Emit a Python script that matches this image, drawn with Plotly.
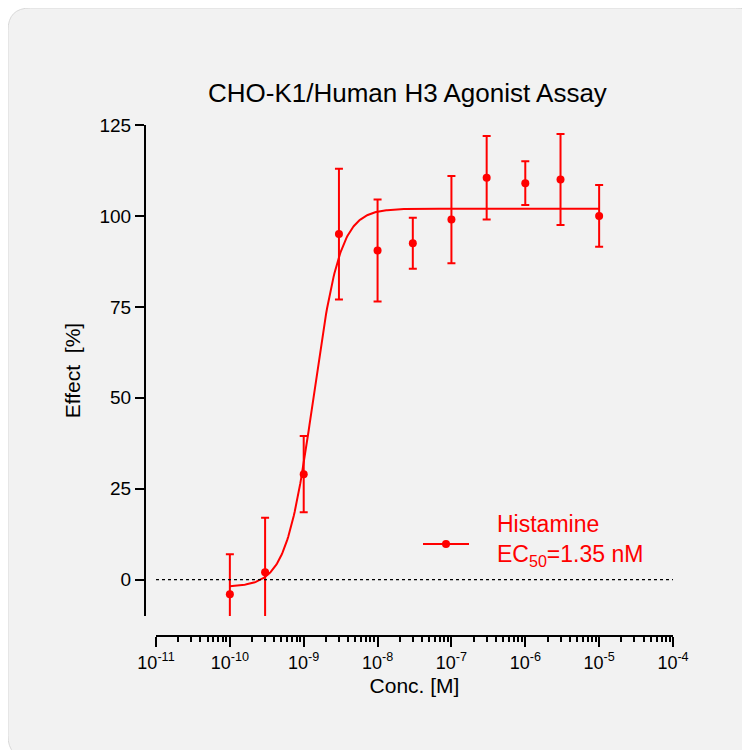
import numpy as np
import plotly.graph_objects as go

conc = [1e-10, 3e-10, 1e-9, 3e-9, 1e-8, 3e-8, 1e-7, 3e-7, 1e-6, 3e-6, 1e-5]
effect = [-4, 2, 29, 95, 90.5, 92.5, 99, 110.5, 109, 110, 100]
err = [11, 15, 10.5, 18, 14, 7, 12, 11.5, 6, 12.5, 8.5]
bottom, top, ec50, hill = -2, 102, 1.35e-9, 2.4
tickvals = [10.0**k for k in range(-11, -3)]
ticktext = [f"10<sup>{k}</sup>" for k in range(-11, -3)]
minorvals = [m * 10.0**k for k in range(-11, -4) for m in range(2, 10)]

red = "#ff0000"
xc = np.logspace(-10, -5, 400)
yc = bottom + (top - bottom) / (1 + (ec50 / xc) ** hill)

fig = go.Figure()
fig.add_trace(go.Scatter(x=xc, y=yc, mode="lines", line=dict(color=red, width=2), hoverinfo="skip"))
fig.add_trace(go.Scatter(x=conc, y=effect, mode="markers", marker=dict(color=red, size=8),
                         error_y=dict(type="data", array=err, color=red, thickness=2, width=4)))

W = 750.0
fig.update_layout(
    width=750, height=750, showlegend=False,
    margin=dict(l=0, r=0, t=0, b=0, autoexpand=False),
    paper_bgcolor="white", plot_bgcolor="rgba(0,0,0,0)",
    font=dict(family="Arial, Liberation Sans, sans-serif", color="black"),
    xaxis=dict(type="log", range=[-11, -4], domain=[148 / W, 665 / W], anchor="free", position=(W - 628) / W,
               automargin=False,
               showgrid=False, zeroline=False, showline=True, linecolor="black", linewidth=2,
               ticks="outside", ticklen=10, tickwidth=2, tickcolor="black",
               tickvals=tickvals, ticktext=ticktext, tickfont=dict(size=18),
               minor=dict(tickvals=minorvals, ticks="outside", ticklen=5, tickwidth=1.5, tickcolor="black"),
               title=dict(text="Conc. [M]", font=dict(size=21), standoff=6)),
    yaxis=dict(range=[-10, 125], domain=[(W - 608) / W, (W - 117) / W], anchor="free", position=137 / W,
               automargin=False,
               showgrid=False, zeroline=False, showline=True, linecolor="black", linewidth=2,
               ticks="outside", ticklen=9, tickwidth=2, tickcolor="black",
               tickvals=[0, 25, 50, 75, 100, 125], tickfont=dict(size=19),
               title=dict(text="Effect  [%]", font=dict(size=21), standoff=12)),
    shapes=[
        dict(type="path", xref="paper", yref="paper", layer="below",
             path="M 0.03,0 L 0.97,0 Q 1,0 1,0.03 L 1,0.97 Q 1,1 0.97,1 L 0.03,1 Q 0,1 0,0.97 L 0,0.03 Q 0,0 0.03,0 Z",
             fillcolor="#f2f2f2", line=dict(color="#d9d9d9", width=1)),
        dict(type="line", xref="x domain", yref="y", x0=0, x1=1, y0=0, y1=0,
             line=dict(color="black", width=1.2, dash="dot")),
        dict(type="line", xref="paper", yref="paper", x0=415 / W, x1=461 / W, y0=(W - 536) / W, y1=(W - 536) / W,
             line=dict(color=red, width=2)),
        dict(type="circle", xref="paper", yref="paper", x0=434 / W, x1=442 / W, y0=(W - 540) / W, y1=(W - 532) / W,
             fillcolor=red, line=dict(color=red, width=0)),
    ],
    annotations=[
        dict(text="CHO-K1/Human H3 Agonist Assay", xref="paper", yref="paper", x=0.533, y=(W - 68) / W,
             showarrow=False, font=dict(size=26)),
        dict(text="Histamine<br>EC<sub>50</sub>=1.35 nM", xref="paper", yref="paper", x=487 / W, y=(W - 532) / W,
             xanchor="left", yanchor="middle", align="left", showarrow=False, font=dict(size=23, color=red)),
    ],
)
fig.write_html("out.html")
